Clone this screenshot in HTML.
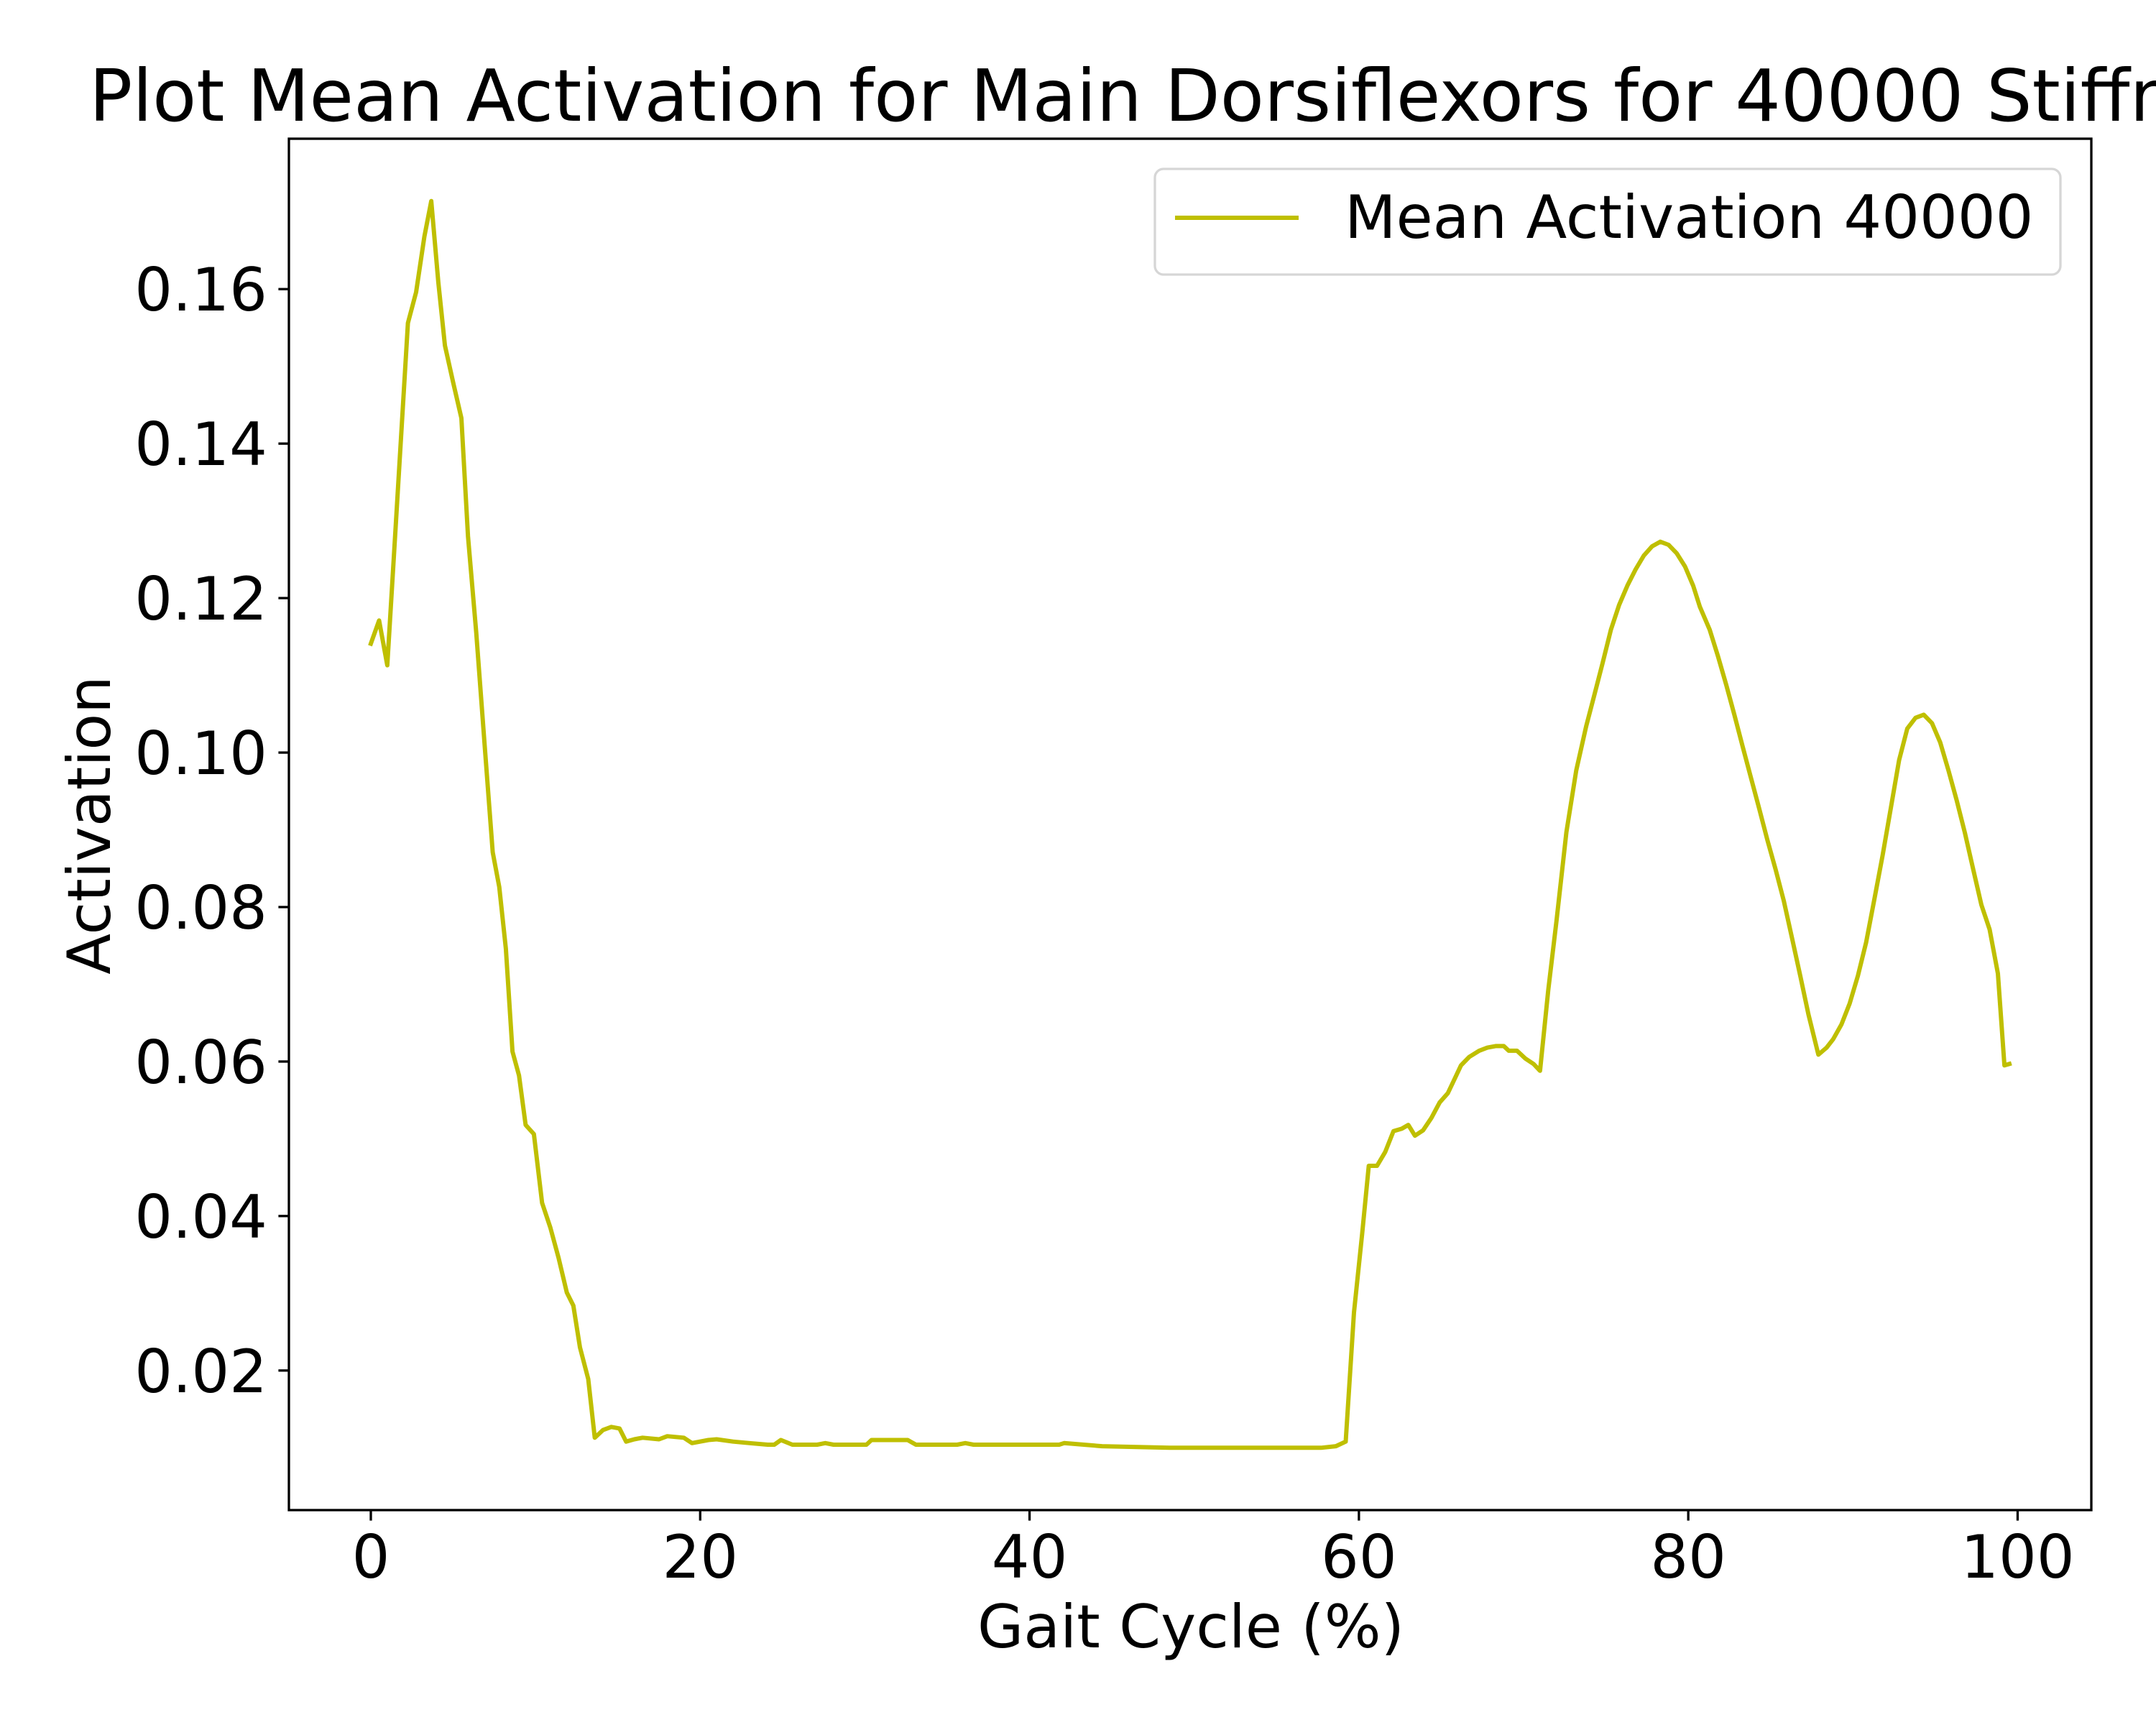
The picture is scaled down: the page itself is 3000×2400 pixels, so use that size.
<!DOCTYPE html>
<html><head><meta charset="utf-8"><style>
html,body{margin:0;padding:0;background:#fff;overflow:hidden}
svg{display:block}
text{font-family:"DejaVu Sans","Liberation Sans",sans-serif;fill:#000}
</style></head><body>
<svg id="chart" width="3000" height="2400" viewBox="0 0 3000 2400" xmlns="http://www.w3.org/2000/svg">
<rect width="3000" height="2400" fill="#fff"/>
<text x="124" y="168" font-size="100">Plot Mean Activation for Main Dorsiflexors for 40000 Stiffness</text>
<g id="plot"></g>
<text x="1657" y="2292" font-size="83" text-anchor="middle">Gait Cycle (%)</text>
<text x="0" y="0" font-size="83" text-anchor="middle" transform="translate(153,1148) rotate(-90)">Activation</text>
<g>
<rect x="1607" y="235" width="1260" height="147" rx="12" fill="#fff" stroke="#d6d6d6" stroke-width="3.3"/>
<line x1="1635" y1="303" x2="1807" y2="303" stroke="#bfbf00" stroke-width="6"/>
<text x="1871" y="331" font-size="83">Mean Activation 40000</text>
</g>
</svg>
<script>
const xValues=[0,0.5,1.0,1.5,2.25,2.75,3.25,3.67,4.1,4.5,5.0,5.5,5.9,6.4,6.9,7.4,7.8,8.2,8.6,9.0,9.4,9.9,10.4,10.9,11.4,11.9,12.3,12.7,13.2,13.6,14.1,14.6,15.1,15.5,16.0,16.5,17.5,18.0,19.0,19.5,20.5,21.0,22.0,23.0,24.1,24.5,24.9,25.6,27.1,27.6,28.1,30.1,30.4,32.6,33.1,35.6,36.1,36.6,41.8,42.1,44.4,48.5,57.7,58.6,59.2,59.7,60.2,60.6,61.1,61.6,62.1,62.6,63.0,63.4,63.9,64.4,64.9,65.4,65.8,66.2,66.7,67.3,67.8,68.3,68.8,69.1,69.6,70.1,70.6,71.0,71.5,72.0,72.6,73.2,73.8,74.3,74.8,75.3,75.8,76.3,76.8,77.3,77.8,78.3,78.8,79.3,79.8,80.3,80.7,81.3,81.8,82.3,82.8,83.3,83.8,84.3,84.8,85.3,85.8,86.3,86.8,87.3,87.9,88.4,88.8,89.3,89.8,90.3,90.8,91.3,91.8,92.3,92.8,93.3,93.8,94.3,94.8,95.3,95.8,96.3,96.8,97.3,97.8,98.3,98.8,99.2,99.5];
const activation=[0.1141,0.1171,0.1113,0.129,0.1556,0.1596,0.1668,0.1714,0.1609,0.1527,0.1479,0.1433,0.128,0.1155,0.1013,0.0871,0.0826,0.0746,0.0613,0.0582,0.0518,0.0506,0.0417,0.0385,0.0346,0.0301,0.0284,0.023,0.0189,0.0113,0.0123,0.0127,0.0125,0.0108,0.0111,0.0113,0.0111,0.0115,0.0113,0.0106,0.0110,0.0111,0.0108,0.0106,0.0104,0.0104,0.011,0.0104,0.0104,0.0106,0.0104,0.0104,0.011,0.011,0.0104,0.0104,0.0106,0.0104,0.0104,0.0106,0.0102,0.0100,0.0100,0.0102,0.0108,0.0275,0.0378,0.0465,0.0465,0.0483,0.0510,0.0513,0.0518,0.0504,0.0511,0.0527,0.0547,0.0559,0.0577,0.0595,0.0606,0.0614,0.0618,0.0620,0.0620,0.0614,0.0614,0.0604,0.0597,0.0588,0.0693,0.0782,0.0897,0.0977,0.1034,0.1075,0.1116,0.1159,0.1191,0.1216,0.1237,0.1255,0.1267,0.1273,0.1269,0.1258,0.1241,0.1216,0.1189,0.1159,0.1125,0.1088,0.1049,0.1008,0.0968,0.0928,0.0887,0.0849,0.0808,0.0760,0.0711,0.0661,0.0609,0.0618,0.0629,0.0648,0.0675,0.0711,0.0754,0.0810,0.0867,0.0928,0.0990,0.1031,0.1045,0.1049,0.1038,0.1013,0.0977,0.0938,0.0896,0.0849,0.0803,0.0771,0.0714,0.0595,0.0597];
const xTicks=[0,20,40,60,80,100];
const xTickLabels=["0","20","40","60","80","100"];
const yTicks=[0.02,0.04,0.06,0.08,0.10,0.12,0.14,0.16];
const yTickLabels=["0.02","0.04","0.06","0.08","0.10","0.12","0.14","0.16"];

const NS="http://www.w3.org/2000/svg";
const L=402,R=2910,T=193,B=2101;
const xmin=Math.min(...xValues),xmax=Math.max(...xValues);
const ymin=Math.min(...activation),ymax=Math.max(...activation);
const xm=(xmax-xmin)*0.05,ym=(ymax-ymin)*0.05;
const x0=xmin-xm,x1=xmax+xm,y0=ymin-ym,y1=ymax+ym;
const sx=v=>L+(v-x0)/(x1-x0)*(R-L);
const sy=v=>B-(v-y0)/(y1-y0)*(B-T);
const g=document.getElementById('plot');
function mk(tag,attrs){const e=document.createElementNS(NS,tag);for(const k in attrs)e.setAttribute(k,attrs[k]);g.appendChild(e);return e;}

let d='';
xValues.forEach((x,i)=>{d+=(i?'L':'M')+sx(x).toFixed(1)+','+sy(activation[i]).toFixed(1);});
const line=mk('path',{d:d,fill:'none',stroke:'#bfbf00','stroke-width':6,'stroke-linejoin':'round','stroke-linecap':'square'});



const frame=mk('rect',{x:L,y:T,width:R-L,height:B-T,fill:'none',stroke:'#000','stroke-width':3.3});



xTicks.forEach((v,i)=>{
  const X=sx(v);
  const t=mk('line',{x1:X,y1:B,x2:X,y2:B+14.6,stroke:'#000','stroke-width':3.3});
  
  
  const lb=mk('text',{x:X,y:2195,'font-size':83,'text-anchor':'middle'});
  lb.textContent=xTickLabels[i];
  
  
});
yTicks.forEach((v,i)=>{
  const Y=sy(v);
  const t=mk('line',{x1:L-14.6,y1:Y,x2:L,y2:Y,stroke:'#000','stroke-width':3.3});
  
  
  const lb=mk('text',{x:372,y:Y+30,'font-size':83,'text-anchor':'end'});
  lb.textContent=yTickLabels[i];
  
  
});
</script>
</body></html>
